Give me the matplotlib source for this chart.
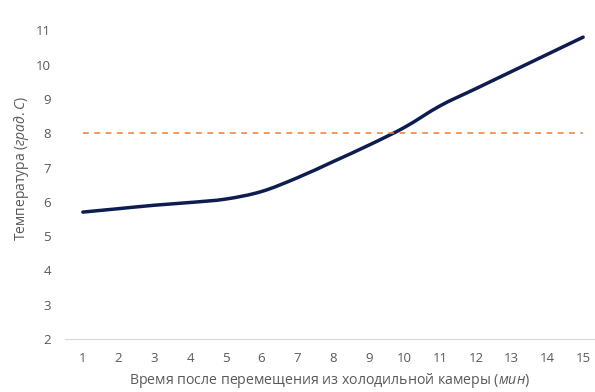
import matplotlib
matplotlib.use("Agg")
import matplotlib.pyplot as plt
from matplotlib.path import Path
from matplotlib.patches import PathPatch
import numpy as np

minutes = list(range(1, 16))
temperature = [5.7, 5.8, 5.9, 5.98, 6.08, 6.3, 6.7, 7.17, 7.65, 8.17, 8.8, 9.3, 9.8, 10.3, 10.8]
threshold = [8] * 15
y_ticks = [2, 3, 4, 5, 6, 7, 8, 9, 10, 11]

plt.rcParams['font.family'] = ['Open Sans', 'DejaVu Sans']
plt.rcParams['mathtext.fontset'] = 'custom'
plt.rcParams['mathtext.it'] = 'Open Sans:italic'
plt.rcParams['mathtext.rm'] = 'Open Sans'

fig = plt.figure(figsize=(5.95, 3.92), dpi=100)
ax = fig.add_axes([65/595, 53/392, (601-65)/595, (396-53)/392])

ax.plot(minutes, threshold, color='#ED7D31', lw=1.1, dashes=(3.8, 3.6))

# smoothed line (Bezier through the data points, Excel-like)
x = np.array(minutes, dtype=float)
y = np.array(temperature, dtype=float)
verts = [(x[0], y[0])]
codes = [Path.MOVETO]
t = 1/6
for i in range(len(x) - 1):
    p0 = (x[i-1], y[i-1]) if i > 0 else (x[i], y[i])
    p1 = (x[i], y[i])
    p2 = (x[i+1], y[i+1])
    p3 = (x[i+2], y[i+2]) if i + 2 < len(x) else (x[i+1], y[i+1])
    c1 = (p1[0] + (p2[0]-p0[0])*t, p1[1] + (p2[1]-p0[1])*t)
    c2 = (p2[0] - (p3[0]-p1[0])*t, p2[1] - (p3[1]-p1[1])*t)
    verts += [c1, c2, p2]
    codes += [Path.CURVE4]*3
ax.add_patch(PathPatch(Path(verts, codes), fill=False, edgecolor='#0E1D50', lw=2.5,
                       capstyle='round', joinstyle='round'))

ax.set_xlim(0.5, 15.5)
ax.set_ylim(2, 12)
ax.set_xticks(minutes)
ax.set_yticks(y_ticks)
for s in ['top', 'right', 'left']:
    ax.spines[s].set_visible(False)
ax.spines['bottom'].set_color('#D9D9D9')
ax.tick_params(axis='both', length=0, colors='#595959', labelsize=9.5)
ax.tick_params(axis='x', pad=9)
ax.tick_params(axis='y', pad=10)

fig.text(330/595, 1 - 381/392, 'Время после перемещения из холодильной камеры ($\\mathit{мин}$)',
         ha='center', va='center', fontsize=10.2, color='#595959')
fig.text(22/595, 1 - 168/392, 'Температура ($\\mathit{град.С}$)', rotation=90,
         ha='center', va='center', fontsize=10, color='#595959')

fig.savefig('out.png', dpi=100)
